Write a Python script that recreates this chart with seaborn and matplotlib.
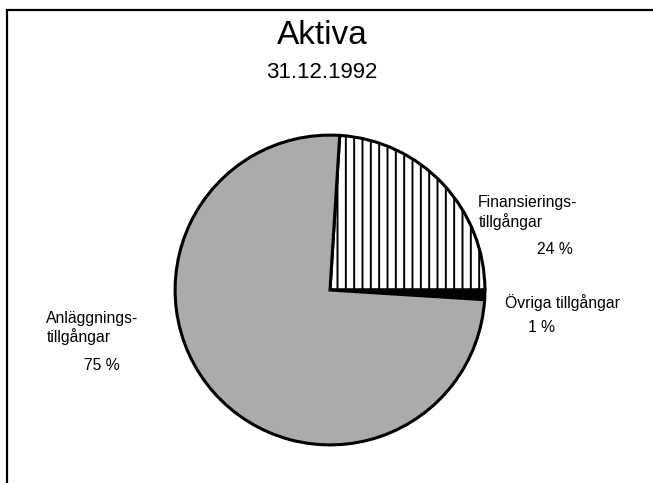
import matplotlib
matplotlib.use("Agg")
import matplotlib.pyplot as plt
import seaborn as sns
from matplotlib.lines import Line2D

# data
categories = ["Finansieringstillgångar", "Övriga tillgångar", "Anläggningstillgångar"]
shares = [24, 1, 75]
label_lines = [["Finansierings-", "tillgångar"], ["Övriga tillgångar"], ["Anläggnings-", "tillgångar"]]
pct_labels = ["24 %", "1 %", "75 %"]

sns.set_style("white")
plt.rcParams["font.family"] = ["Liberation Sans", "DejaVu Sans"]
plt.rcParams["text.color"] = "black"
plt.rcParams["hatch.linewidth"] = 1.4
plt.rcParams["hatch.color"] = "black"

W, H = 653, 483
fig = plt.figure(figsize=(W / 100, H / 100), dpi=100)

# pie placement (pixels from top-left): centre (330, 290), radius 158
cx, cy, r = 330, 290, 158
ax = fig.add_axes([(cx - r) / W, (H - cy - r) / H, 2 * r / W, 2 * r / H])

colors = ["white", "black", "#ababab"]
wedges, _ = ax.pie(shares, colors=colors, startangle=86.4, counterclock=False,
                   wedgeprops=dict(edgecolor="black", linewidth=2.2))
wedges[0].set_hatch("||")
ax.set_xlim(-1.02, 1.02)
ax.set_ylim(-1.02, 1.02)
ax.set_aspect("equal")
ax.axis("off")

# frame lines (left and top only)
fig.add_artist(Line2D([7 / W, 7 / W], [0, 1 - 10 / H], color="black", lw=1.6, transform=fig.transFigure))
fig.add_artist(Line2D([7 / W, 1], [1 - 10 / H, 1 - 10 / H], color="black", lw=1.6, transform=fig.transFigure))


def px(x, y):
    return x / W, 1 - y / H


fig.text(*px(322, 35), "Aktiva", fontsize=24, ha="center", va="center")
fig.text(*px(322, 72), "31.12.1992", fontsize=16, ha="center", va="center")

fs = 11.3
# Finansierings-
fig.text(*px(478, 203), label_lines[0][0], fontsize=fs, ha="left", va="center")
fig.text(*px(479, 222), label_lines[0][1], fontsize=fs, ha="left", va="center")
fig.text(*px(537, 250), pct_labels[0], fontsize=fs, ha="left", va="center")
# Övriga
fig.text(*px(505, 303), label_lines[1][0], fontsize=fs, ha="left", va="center")
fig.text(*px(528, 327), pct_labels[1], fontsize=fs, ha="left", va="center")
# Anläggnings-
fig.text(*px(46, 318), label_lines[2][0], fontsize=fs, ha="left", va="center")
fig.text(*px(47, 337), label_lines[2][1], fontsize=fs, ha="left", va="center")
fig.text(*px(84, 366), pct_labels[2], fontsize=fs, ha="left", va="center")

fig.savefig("out.png", dpi=100)
